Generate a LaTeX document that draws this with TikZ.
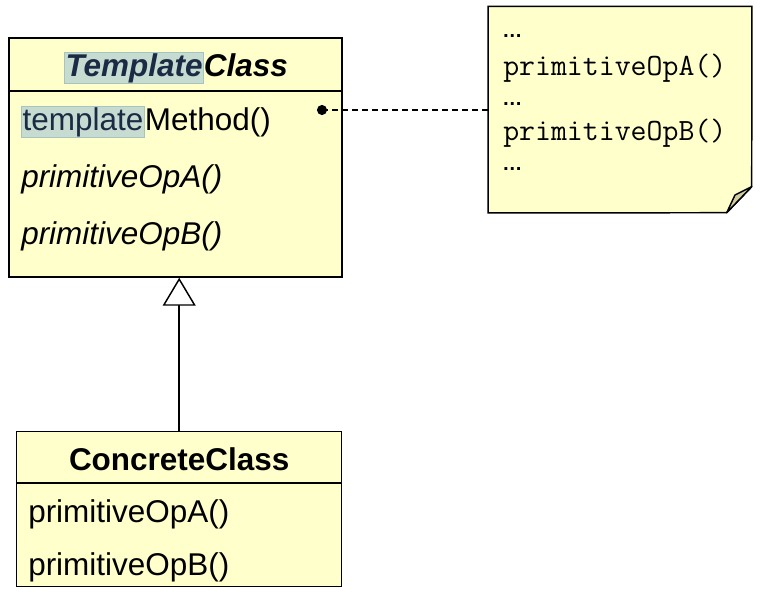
\documentclass[tikz,border=0pt]{standalone}
\usepackage{fontspec}
\setmainfont{Liberation Sans}
\newfontfamily\dotsfont{Liberation Sans}
\usetikzlibrary{arrows.meta}
\definecolor{umlfill}{HTML}{FFFFCC}
\definecolor{hlfill}{HTML}{C6DCD0}
\definecolor{hlborder}{HTML}{A8C4C0}
\definecolor{hltext}{HTML}{1B2B45}
\definecolor{foldfill}{HTML}{D2CDA0}
\newcommand{\hlword}[1]{{\setlength{\fboxsep}{0.6pt}\setlength{\fboxrule}{0.5pt}\fcolorbox{hlborder}{hlfill}{\textcolor{hltext}{#1}}}}
\newcommand{\notedots}{{\dotsfont\bfseries\fontsize{15}{16}\selectfont …}}
\begin{document}
\begin{tikzpicture}[x=0.75pt,y=-0.75pt,
  classbox/.style={draw=black,line width=1.1pt,fill=umlfill,inner sep=0pt,rectangle},
  member/.style={anchor=base west,inner sep=0pt,font=\fontsize{23.6}{28}\selectfont},
  title/.style={anchor=base,inner sep=0pt,font=\fontsize{23.6}{28}\selectfont\bfseries},
  notetext/.style={anchor=base west,inner sep=0pt,font=\fontsize{23.2}{26}\ttfamily},
  conn/.style={line width=1.1pt}]
\useasboundingbox (0,0) rectangle (761,600);
% TemplateClass
\node[classbox,minimum width=249.75pt,minimum height=179.25pt] (tc) at (175.5,157.5) {};
\draw[conn] (9,91) -- (342,91);
\node[title] (tctitle) at (176,76) {\itshape\hlword{Template}Class};
\node[member] (tm) at (21,130) {\hlword{template}Method()};
\node[member] (pa) at (21,187) {\itshape primitiveOpA()};
\node[member] (pb) at (21,244) {\itshape primitiveOpB()};
% ConcreteClass
\node[classbox,minimum width=243.75pt,minimum height=116pt] (cc) at (179.2,509) {};
\draw[conn] (16.7,483) -- (341.7,483);
\node[title] (cctitle) at (179.2,470) {ConcreteClass};
\node[member] (cpa) at (28,522) {primitiveOpA()};
\node[member] (cpb) at (28,575) {primitiveOpB()};
% Note
\node[minimum width=197.5pt,minimum height=154.5pt,inner sep=0pt] (note) at (620,109.7) {};
\coordinate (fa) at (751.7,186.7);
\coordinate (fb) at (726.7,212.7);
\draw[conn,fill=umlfill] (note.north west) -- (note.north east) -- (fa) -- (fb) -- (note.south west) -- cycle;
\draw[conn,fill=foldfill,line join=round] (fa) -- (735,195) -- (fb) -- cycle;
\node[notetext] (n1) at (502,37) {\notedots};
\node[notetext] (n2) at (503,75) {primitiveOpA()};
\node[notetext] (n3) at (502,105) {\notedots};
\node[notetext] (n4) at (503,140) {primitiveOpB()};
\node[notetext] (n5) at (502,170) {\notedots};
% Connectors
\coordinate (dot) at (322,110);
\fill (dot) circle[radius=3.8pt];
\draw[line width=1pt,dash pattern=on 4.5pt off 3pt] (dot) -- (note.west |- dot);
\draw[conn,-{Triangle[open,length=21pt,width=24.75pt,fill=white]}] (cc.north) -- (cc.north |- tc.south);
\end{tikzpicture}
\end{document}
